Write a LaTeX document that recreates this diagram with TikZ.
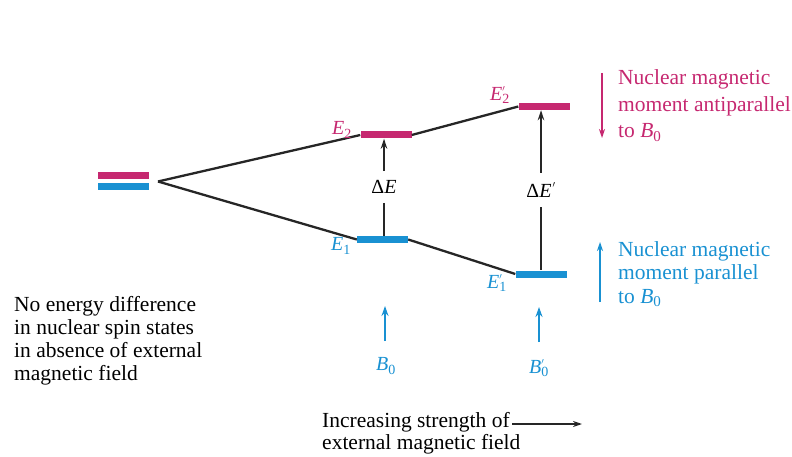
\documentclass[tikz,border=0pt]{standalone}
\usepackage{fontspec}
\setmainfont{Liberation Serif}
\usetikzlibrary{arrows.meta}
\definecolor{mag}{RGB}{198,40,112}
\definecolor{blu}{RGB}{25,145,210}
\newcommand\lsub[1]{\textsubscript{#1}}
\newcommand\lpr{\rlap{\raisebox{0.55ex}{\fontsize{13}{13}\selectfont$'$}}}
\begin{document}
\begin{tikzpicture}[x=1pt,y=1pt,
  txt/.style={anchor=base west,inner sep=0pt,font=\fontsize{21.5}{23}\selectfont},
  lab/.style={inner sep=0pt,font=\fontsize{20}{22}\selectfont},
  bar/.style={rectangle,inner sep=0pt,minimum width=51pt,minimum height=7pt,draw=none},
  level/.style={line width=2.3pt,black!85},
  tipdown/.style={-{Stealth[length=10pt,width=6.5pt]}},
  thinarrow/.style={line width=1.8pt,-{Stealth[length=9pt,width=6pt]}},
]
\useasboundingbox (0,0) rectangle (792,-457);

% bars
\node[bar,fill=mag] (M0) at (123.5,-176) {};
\node[bar,fill=blu] (B0bar) at (123.5,-186.5) {};
\node[bar,fill=mag] (E2) at (386,-135) {};
\node[bar,fill=blu] (E1) at (382.5,-239.5) {};
\node[bar,fill=mag] (E2p) at (544,-106.5) {};
\node[bar,fill=blu] (E1p) at (541,-274) {};
\coordinate (split) at (158,-181.5);

% energy lines
\draw[level] (split) -- (E2.west);
\draw[level] (E2.east) -- (E2p.west);
\draw[level] (split) -- (E1.west);
\draw[level] (E1.east) -- (E1p.west);

% level labels
\node[lab,text=mag] (lE2) at (342,-130) {\textit{E}\lsub{2}};
\node[lab,text=blu] (lE1) at (341,-246) {\textit{E}\lsub{1}};
\node[lab,text=mag] (lE2p) at (500,-95) {\textit{E}\lpr\lsub{2}};
\node[lab,text=blu] (lE1p) at (497,-283) {\textit{E}\lpr\lsub{1}};

% Delta E arrows
\node[lab,inner ysep=9pt] (dE) at (384,-187) {Δ\textit{E}};
\draw[level] (dE.south) -- (dE.south |- E1.north);
\draw[level,tipdown] (dE.north) -- (dE.north |- E2.south);
\node[lab,inner ysep=10pt] (dEp) at (541,-190) {Δ\textit{E}\kern1pt\lpr\kern3pt};
\draw[level] (dEp.south) -- (dEp.south |- E1p.north);
\draw[level,tipdown] (dEp.north) -- (dEp.north |- E2p.south);

% field labels and arrows
\node[lab,text=blu] (Bl1) at (386,-366) {\textit{B}\lsub{0}};
\node[lab,text=blu] (Bl2) at (539,-368) {\textit{B}\lpr\lsub{0}};
\coordinate (a1s) at (385,-341);
\coordinate (a1e) at (385,-306);
\coordinate (a2s) at (539,-342);
\coordinate (a2e) at (539,-307);
\draw[blu,line width=2.6pt,-{Stealth[length=10pt,width=7pt]}] (a1s) -- (a1e);
\draw[blu,line width=2.6pt,-{Stealth[length=10pt,width=7pt]}] (a2s) -- (a2e);

% right annotations
\coordinate (m1) at (602,-73);
\coordinate (m2) at (602,-138);
\draw[mag,thinarrow] (m1) -- (m2);
\node[txt,text=mag] (ma1) at (618,-85) {Nuclear magnetic};
\node[txt,text=mag] (ma2) at (618,-111.5) {moment antiparallel};
\node[txt,text=mag] (ma3) at (618,-138) {to \textit{B}\lsub{0}};

\coordinate (b1) at (600,-302);
\coordinate (b2) at (600,-242);
\draw[blu,thinarrow] (b1) -- (b2);
\node[txt,text=blu] (pa1) at (618,-256) {Nuclear magnetic};
\node[txt,text=blu] (pa2) at (618,-279.5) {moment parallel};
\node[txt,text=blu] (pa3) at (618,-303) {to \textit{B}\lsub{0}};

% left text
\node[txt] (l1) at (14,-311) {No energy difference};
\node[txt] (l2) at (14,-334) {in nuclear spin states};
\node[txt] (l3) at (14,-357) {in absence of external};
\node[txt] (l4) at (14,-380) {magnetic field};

% bottom text
\node[txt] (inc1) at (322,-427) {Increasing strength of};
\node[txt] (inc2) at (322,-449) {external magnetic field};
\coordinate (ia) at (512,-424);
\coordinate (ib) at (582,-424);
\draw[black!85,thinarrow] (ia) -- (ib);
\end{tikzpicture}
\end{document}
